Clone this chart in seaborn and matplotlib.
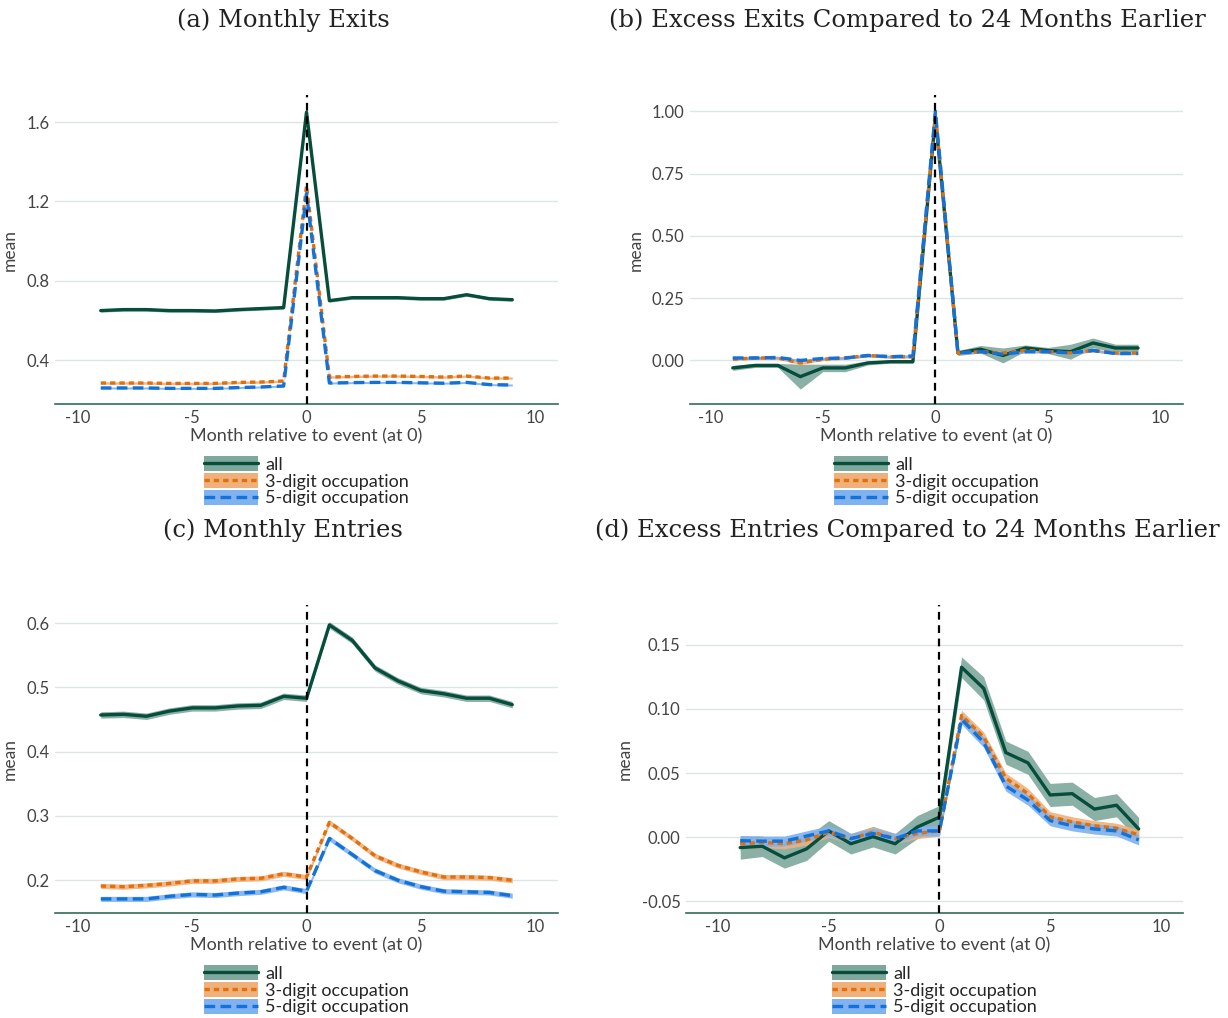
import numpy as np
import pandas as pd
import seaborn as sns
import matplotlib.pyplot as plt
from matplotlib.patches import Patch
from matplotlib.lines import Line2D
from matplotlib.legend_handler import HandlerTuple
from matplotlib.ticker import FormatStrFormatter

# months relative to the event
months = list(range(-9, 10))
series = ["all", "3-digit occupation", "5-digit occupation"]

# (a) monthly exits
exits_all = [0.65, 0.655, 0.655, 0.65, 0.65, 0.648, 0.655, 0.66, 0.665, 1.65,
             0.70, 0.715, 0.715, 0.715, 0.71, 0.71, 0.73, 0.71, 0.705]
exits_3 = [0.285, 0.285, 0.285, 0.283, 0.283, 0.283, 0.288, 0.29, 0.295, 1.28,
           0.315, 0.318, 0.32, 0.32, 0.318, 0.315, 0.32, 0.31, 0.31]
exits_5 = [0.26, 0.26, 0.26, 0.258, 0.258, 0.258, 0.262, 0.265, 0.27, 1.24,
           0.285, 0.287, 0.288, 0.288, 0.286, 0.284, 0.288, 0.277, 0.275]
exits_all_ci = [0.008] * 19
exits_3_ci = [0.006] * 19
exits_5_ci = [0.005] * 19

# (b) excess exits vs 24 months earlier
xexits_all = [-0.03, -0.02, -0.02, -0.065, -0.03, -0.03, -0.01, -0.005, -0.005, 0.975,
              0.03, 0.045, 0.02, 0.05, 0.04, 0.035, 0.07, 0.05, 0.05]
xexits_3 = [0.005, 0.01, 0.01, -0.01, 0.005, 0.01, 0.02, 0.015, 0.015, 0.99,
            0.03, 0.035, 0.03, 0.04, 0.035, 0.03, 0.04, 0.03, 0.03]
xexits_5 = [0.01, 0.01, 0.012, 0.0, 0.008, 0.01, 0.02, 0.015, 0.018, 1.0,
            0.03, 0.035, 0.025, 0.035, 0.035, 0.03, 0.04, 0.028, 0.028]
xexits_all_ci = [0.01, 0.008, 0.008, 0.05, 0.015, 0.015, 0.008, 0.006, 0.006, 0.01,
                 0.01, 0.015, 0.03, 0.012, 0.012, 0.03, 0.02, 0.015, 0.015]
xexits_3_ci = [0.006] * 19
xexits_5_ci = [0.005] * 19

# (c) monthly entries
entries_all = [0.457, 0.458, 0.455, 0.463, 0.468, 0.468, 0.471, 0.472, 0.486, 0.483,
               0.597, 0.573, 0.53, 0.51, 0.495, 0.49, 0.483, 0.483, 0.473]
entries_3 = [0.191, 0.19, 0.192, 0.195, 0.199, 0.199, 0.202, 0.203, 0.21, 0.205,
             0.29, 0.265, 0.238, 0.223, 0.213, 0.205, 0.205, 0.204, 0.2]
entries_5 = [0.171, 0.171, 0.171, 0.175, 0.178, 0.177, 0.18, 0.182, 0.189, 0.183,
             0.265, 0.24, 0.215, 0.2, 0.19, 0.183, 0.182, 0.181, 0.176]
entries_all_ci = [0.005] * 19
entries_3_ci = [0.004] * 19
entries_5_ci = [0.004] * 19

# (d) excess entries vs 24 months earlier
xentries_all = [-0.008, -0.007, -0.016, -0.009, 0.005, -0.005, 0.0005, -0.005, 0.008, 0.0157,
                0.1325, 0.116, 0.066, 0.058, 0.033, 0.034, 0.022, 0.025, 0.0065]
xentries_3 = [-0.005, -0.004, -0.005, -0.002, 0.004, -0.001, 0.004, -0.001, 0.003, 0.005,
              0.095, 0.078, 0.046, 0.034, 0.016, 0.012, 0.009, 0.007, 0.002]
xentries_5 = [-0.0026, -0.003, -0.003, 0.001, 0.005, -0.001, 0.003, -0.001, 0.005, 0.005,
              0.092, 0.074, 0.04, 0.029, 0.013, 0.009, 0.0065, 0.005, -0.002]
xentries_all_ci = [0.009, 0.008, 0.008, 0.009, 0.008, 0.008, 0.008, 0.008, 0.009, 0.009,
                   0.008, 0.009, 0.009, 0.009, 0.009, 0.009, 0.009, 0.009, 0.009]
xentries_3_ci = [0.004] * 19
xentries_5_ci = [0.004] * 19

line_colors = ["#064d3b", "#e06f0d", "#1272d9"]
fill_colors = ["#7fa89c", "#f0b07a", "#7fb2ee"]
dash_styles = [(None, None), (1.6, 1.2), (3.2, 1.6)]

sns.set_theme(style="white")
plt.rcParams["font.family"] = ["Lato", "DejaVu Sans"]
plt.rcParams["axes.unicode_minus"] = False

fig = plt.figure(figsize=(12.28, 10.18), dpi=100)

panels = [
    ("(a) Monthly Exits", [0.0448, 0.6031, 0.4096, 0.3035], (-11, 11), (0.179, 1.736),
     [0.4, 0.8, 1.2, 1.6], "%.1f",
     [exits_all, exits_3, exits_5], [exits_all_ci, exits_3_ci, exits_5_ci], (283, 20)),
    ("(b) Excess Exits Compared to 24 Months Earlier", [0.5619, 0.6031, 0.4015, 0.3035], (-10.9, 11), (-0.175, 1.065),
     [0.0, 0.25, 0.5, 0.75, 1.0], "%.2f",
     [xexits_all, xexits_3, xexits_5], [xexits_all_ci, xexits_3_ci, xexits_5_ci], (907, 20)),
    ("(c) Monthly Entries", [0.0448, 0.1031, 0.4096, 0.3026], (-11, 11), (0.149, 0.628),
     [0.2, 0.3, 0.4, 0.5, 0.6], "%.1f",
     [entries_all, entries_3, entries_5], [entries_all_ci, entries_3_ci, entries_5_ci], (283, 530)),
    ("(d) Excess Entries Compared to 24 Months Earlier", [0.5586, 0.1031, 0.4047, 0.3026], (-11.45, 11), (-0.059, 0.181),
     [-0.05, 0.0, 0.05, 0.10, 0.15], "%.2f",
     [xentries_all, xentries_3, xentries_5], [xentries_all_ci, xentries_3_ci, xentries_5_ci], (907, 530)),
]

for title, pos, xlim, ylim, yticks, fmt, values, cis, tpos in panels:
    ax = fig.add_axes(pos)
    handles = []
    for i, name in enumerate(series):
        y = np.array(values[i])
        ci = np.array(cis[i])
        ax.fill_between(months, y - ci, y + ci, color=fill_colors[i], alpha=0.9, lw=0, zorder=2 + i)
        df = pd.DataFrame({"month": months, "mean": y})
        sns.lineplot(data=df, x="month", y="mean", ax=ax, color=line_colors[i], lw=2.4, zorder=5 + i)
        ln = ax.get_lines()[-1]
        if dash_styles[i][0] is not None:
            ln.set_dashes(dash_styles[i])
        handles.append((Patch(facecolor=fill_colors[i], edgecolor="none"),
                        Line2D([], [], color=line_colors[i], lw=2.4,
                               dashes=dash_styles[i] if dash_styles[i][0] else (None, None))))
    ax.axvline(0, color="black", lw=1.6, dashes=(3.5, 2.5), zorder=10)
    ax.set_xlim(xlim)
    ax.set_ylim(ylim)
    ax.set_xticks([-10, -5, 0, 5, 10])
    ax.set_yticks(yticks)
    ax.yaxis.set_major_formatter(FormatStrFormatter(fmt))
    ax.grid(axis="y", color="#dce6e6", lw=1)
    ax.set_axisbelow(True)
    for s in ["top", "right", "left"]:
        ax.spines[s].set_visible(False)
    ax.spines["bottom"].set_color("#2f6e5c")
    ax.spines["bottom"].set_linewidth(1.2)
    ax.tick_params(length=0, labelsize=12, labelcolor="#444444", pad=4)
    ax.set_xlabel("Month relative to event (at 0)", fontsize=13, color="#444444", labelpad=2)
    ax.set_ylabel("mean", fontsize=12.5, color="#444444", labelpad=6)
    ax.legend(handles, series, handler_map={tuple: HandlerTuple(ndivide=1, pad=0)},
              loc="upper center", bbox_to_anchor=(0.5, -0.14), frameon=False,
              fontsize=13, handlelength=3.0, handleheight=0.9, handletextpad=0.4,
              labelspacing=0.0, borderpad=0)
    fig.text(tpos[0] / 1228, 1 - tpos[1] / 1018, title, ha="center", va="center",
             fontsize=17.5, family="DejaVu Serif", color="#222222")

fig.savefig("out.png", dpi=100)
